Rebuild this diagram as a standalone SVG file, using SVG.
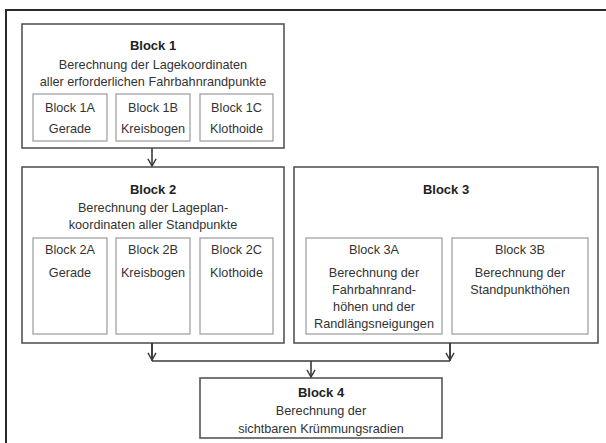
<svg xmlns="http://www.w3.org/2000/svg" width="606" height="443" viewBox="0 0 606 443">
<defs>
<style>
.frame{fill:none;stroke:#2a2a2a;stroke-width:2}
.blk{fill:#fff;stroke:#555;stroke-width:1.6}
.sub{fill:#fff;stroke:#9a9a9a;stroke-width:1.2}
text{font-family:"Liberation Sans",Arial,sans-serif;font-size:12.7px;fill:#333;text-anchor:middle}
.b{font-weight:bold;fill:#222;font-size:13px}
.con{fill:none;stroke:#3a3a3a;stroke-width:1.6}
</style>
<marker id="ah" viewBox="0 0 10 10" refX="9" refY="5" markerWidth="9" markerHeight="10" orient="auto" markerUnits="userSpaceOnUse">
<path d="M1,0.5 L9,5 L1,9.5" fill="none" stroke="#3a3a3a" stroke-width="1.6"/>
</marker>
</defs>
<rect width="606" height="443" fill="#fff"/>
<path class="frame" d="M6,443 V10 H606"/>

<g id="block1">
<rect class="blk" x="22" y="24" width="262" height="124"/>
<text class="b" x="153" y="50">Block 1</text>
<text x="153" y="69">Berechnung der Lagekoordinaten</text>
<text x="153" y="86">aller erforderlichen Fahrbahnrandpunkte</text>
</g>
<g id="block1A">
<rect class="sub" x="33" y="94" width="74" height="47"/>
<text x="70" y="112">Block 1A</text>
<text x="70" y="133">Gerade</text>
</g>
<g id="block1B">
<rect class="sub" x="116" y="94" width="74" height="47"/>
<text x="153" y="112">Block 1B</text>
<text x="153" y="133">Kreisbogen</text>
</g>
<g id="block1C">
<rect class="sub" x="200" y="94" width="73" height="47"/>
<text x="236.5" y="112">Block 1C</text>
<text x="236.5" y="133">Klothoide</text>
</g>

<g id="block2">
<rect class="blk" x="22" y="167" width="262" height="176"/>
<text class="b" x="153" y="194">Block 2</text>
<text x="153" y="212">Berechnung der Lageplan-</text>
<text x="153" y="229">koordinaten aller Standpunkte</text>
</g>
<g id="block2A">
<rect class="sub" x="33" y="238" width="74" height="96"/>
<text x="70" y="254">Block 2A</text>
<text x="70" y="277">Gerade</text>
</g>
<g id="block2B">
<rect class="sub" x="116" y="238" width="74" height="96"/>
<text x="153" y="254">Block 2B</text>
<text x="153" y="277">Kreisbogen</text>
</g>
<g id="block2C">
<rect class="sub" x="200" y="238" width="73" height="96"/>
<text x="236.5" y="254">Block 2C</text>
<text x="236.5" y="277">Klothoide</text>
</g>

<g id="block3">
<rect class="blk" x="294" y="167" width="304" height="176"/>
<text class="b" x="446" y="194">Block 3</text>
</g>
<g id="block3A">
<rect class="sub" x="306" y="238" width="136" height="96"/>
<text x="374" y="254">Block 3A</text>
<text x="374" y="277">Berechnung der</text>
<text x="374" y="294">Fahrbahnrand-</text>
<text x="374" y="311">höhen und der</text>
<text x="374" y="328">Randlängsneigungen</text>
</g>
<g id="block3B">
<rect class="sub" x="452" y="238" width="136" height="96"/>
<text x="520" y="254">Block 3B</text>
<text x="520" y="277">Berechnung der</text>
<text x="520" y="294">Standpunkthöhen</text>
</g>

<g id="block4">
<rect class="blk" x="200" y="378" width="242" height="60"/>
<text class="b" x="321" y="397">Block 4</text>
<text x="321" y="415">Berechnung der</text>
<text x="321" y="433">sichtbaren Krümmungsradien</text>
</g>

<g id="connectors">
<path class="con" d="M152,148 V166" marker-end="url(#ah)"/>
<path class="con" d="M152,343 V361"/>
<path class="con" d="M450,343 V361"/>
<path class="con" d="M152,343 V360" marker-end="url(#ah)"/>
<path class="con" d="M450,343 V360" marker-end="url(#ah)"/>
<path class="con" d="M152,361 H450"/>
<path class="con" d="M311,361 V377" marker-end="url(#ah)"/>
</g>
</svg>
